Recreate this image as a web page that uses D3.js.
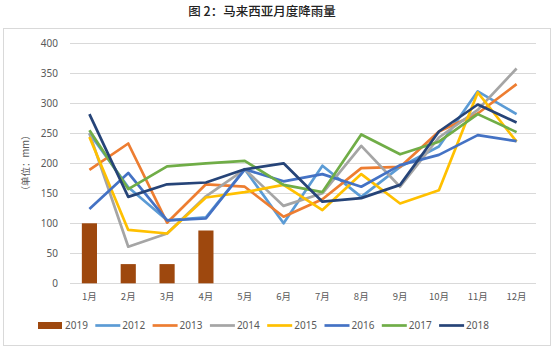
<!DOCTYPE html>
<html>
<head>
<meta charset="utf-8">
<script src="https://cdn.jsdelivr.net/npm/d3@7"></script>
<style>
  html, body { margin: 0; padding: 0; background: #fff; }
  svg { display: block; font-family: "Noto Sans CJK SC", "Noto Sans", sans-serif; }
</style>
</head>
<body>
<svg id="chart" width="554" height="349"></svg>
<script>
// Monthly rainfall in Malaysia (mm)
const months = ["1月","2月","3月","4月","5月","6月","7月","8月","9月","10月","11月","12月"];
const yTicks = [0, 50, 100, 150, 200, 250, 300, 350, 400];

// 2019 is shown as bars (Jan–Apr only)
const rain2019 = [100, 32, 32, 88];

const rain2012 = [250, 160, 105, 110, 190, 100, 196, 144, 194, 228, 320, 282];
const rain2013 = [189, 233, 101, 165, 161, 111, 140, 192, 194, 253, 283, 332];
const rain2014 = [250, 61, 83, 145, 190, 129, 150, 229, 161, 243, 289, 358];
const rain2015 = [244, 89, 83, 143, 152, 164, 122, 182, 133, 155, 318, 236];
const rain2016 = [124, 184, 105, 108, 190, 170, 182, 161, 197, 214, 247, 237];
const rain2017 = [255, 157, 195, 200, 204, 164, 152, 248, 215, 236, 282, 252];
const rain2018 = [282, 144, 165, 168, 190, 200, 136, 142, 164, 253, 298, 268];

const lineSeries = [
  { name: "2012", values: rain2012, color: "#5B9BD5" },
  { name: "2013", values: rain2013, color: "#ED7D31" },
  { name: "2014", values: rain2014, color: "#A5A5A5" },
  { name: "2015", values: rain2015, color: "#FFC000" },
  { name: "2016", values: rain2016, color: "#4472C4" },
  { name: "2017", values: rain2017, color: "#70AD47" },
  { name: "2018", values: rain2018, color: "#264478" }
];
const barColor = "#9E480E";

const svg = d3.select("#chart");

// outer frame
svg.append("rect")
  .attr("x", 3.5).attr("y", 28.5).attr("width", 547).attr("height", 317)
  .attr("fill", "#fff").attr("stroke", "#D9D9D9");

// title
svg.append("text")
  .attr("x", 262).attr("y", 16)
  .attr("text-anchor", "middle")
  .attr("font-size", 12.5).attr("font-weight", 500).attr("fill", "#222")
  .text("图 2：马来西亚月度降雨量");

const x = d3.scaleBand().domain(months).range([70, 536]).paddingInner(0).paddingOuter(0);
const y = d3.scaleLinear().domain([0, 400]).range([283.3, 43.3]);

// gridlines
svg.append("g").selectAll("line").data(yTicks).join("line")
  .attr("x1", 70).attr("x2", 536)
  .attr("y1", d => Math.round(y(d)) + 0.5).attr("y2", d => Math.round(y(d)) + 0.5)
  .attr("stroke", "#D9D9D9").attr("stroke-width", 1);

// y axis labels
const yAxis = d3.axisLeft(y).tickValues(yTicks).tickSize(0).tickPadding(12);
const gy = svg.append("g").attr("transform", "translate(70,0)").call(yAxis);
gy.select(".domain").remove();
gy.selectAll("text").attr("font-size", 10).attr("fill", "#595959")
  .attr("font-family", "\"Noto Sans\", sans-serif");

// x axis labels
const xAxis = d3.axisBottom(x).tickSize(0).tickPadding(10);
const gx = svg.append("g").attr("transform", "translate(0,283.3)").call(xAxis);
gx.select(".domain").remove();
gx.selectAll("text").attr("font-size", 9.5).attr("fill", "#595959")
  .attr("font-family", "\"Noto Sans CJK SC\", sans-serif");

// axis title
svg.append("text")
  .attr("transform", "translate(29,163) rotate(-90)")
  .attr("text-anchor", "middle")
  .attr("font-size", 9.5).attr("fill", "#595959")
  .text("（单位：mm）");

// 2019 bars
const barW = x.bandwidth() * 0.39;
svg.append("g").selectAll("rect").data(rain2019).join("rect")
  .attr("x", (d, i) => x(months[i]) + x.bandwidth() / 2 - barW / 2)
  .attr("y", d => y(d))
  .attr("width", barW)
  .attr("height", d => y(0) - y(d))
  .attr("fill", barColor);

// lines
const line = d3.line()
  .x((d, i) => x(months[i]) + x.bandwidth() / 2)
  .y(d => y(d));

svg.append("g").selectAll("path").data(lineSeries).join("path")
  .attr("d", d => line(d.values))
  .attr("fill", "none")
  .attr("stroke", d => d.color)
  .attr("stroke-width", 2.7)
  .attr("stroke-linejoin", "round");

// legend
const legend = svg.append("g").attr("font-size", 10).attr("fill", "#595959")
  .attr("font-family", "\"Noto Sans\", sans-serif");
const legendItems = [{ name: "2019", color: barColor, bar: true }].concat(lineSeries);
legendItems.forEach((d, i) => {
  const lx = 38 + i * 57.3;
  const ly = 325.5;
  if (d.bar) {
    legend.append("rect").attr("x", lx).attr("y", ly - 3.5).attr("width", 24).attr("height", 7).attr("fill", d.color);
  } else {
    legend.append("line").attr("x1", lx).attr("x2", lx + 25).attr("y1", ly).attr("y2", ly)
      .attr("stroke", d.color).attr("stroke-width", 2.7);
  }
  legend.append("text").attr("x", lx + 27).attr("y", ly + 3.6).attr("fill", "#595959").text(d.name);
});
</script>
</body>
</html>
